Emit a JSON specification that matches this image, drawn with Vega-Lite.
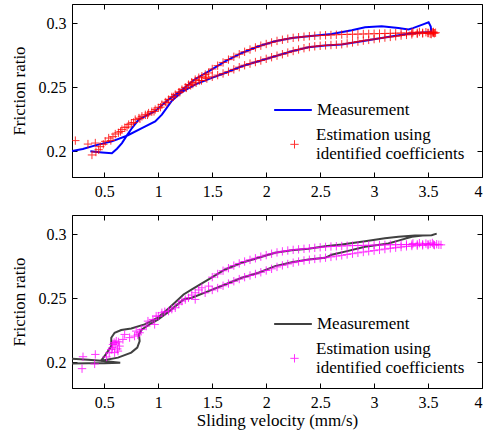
{
  "$schema": "https://vega.github.io/schema/vega-lite/v6.json",
  "background": "white",
  "padding": {"left": 9, "top": 3, "right": 2, "bottom": 4},
  "spacing": 14,
  "config": {
    "font": "Liberation Serif",
    "view": {"stroke": "black", "strokeWidth": 1},
    "axis": {"grid": false, "domainColor": "black", "tickColor": "black", "tickSize": -5, "labelFontSize": 16, "labelColor": "black", "labelFont": "Liberation Serif", "titleFont": "Liberation Serif", "titleFontSize": 17, "titleFontWeight": "normal", "titleColor": "black", "labelPadding": 11},
    "legend": {"labelFont": "Liberation Serif", "labelFontSize": 17, "labelColor": "black", "padding": 0, "labelLimit": 0}
  },
  "resolve": {"scale": {"stroke": "independent", "color": "independent"}, "legend": {"stroke": "independent", "color": "independent"}},
  "datasets": {
    "m1": [
      {"o":1,"x":0.2,"y":0.2003},{"o":2,"x":0.3,"y":0.2018},{"o":3,"x":0.416,"y":0.2047},{"o":4,"x":0.57,"y":0.2078},{"o":5,"x":0.709,"y":0.2122},{"o":6,"x":0.848,"y":0.2182},{"o":7,"x":0.971,"y":0.2234},{"o":8,"x":1.033,"y":0.2287},{"o":9,"x":1.126,"y":0.2395},{"o":10,"x":1.22,"y":0.2465},{"o":11,"x":1.35,"y":0.2525},{"o":12,"x":1.496,"y":0.2573},{"o":13,"x":1.619,"y":0.2612},{"o":14,"x":1.774,"y":0.2664},{"o":15,"x":1.929,"y":0.2703},{"o":16,"x":2.082,"y":0.2742},{"o":17,"x":2.237,"y":0.2781},{"o":18,"x":2.392,"y":0.2813},{"o":19,"x":2.545,"y":0.2826},{"o":20,"x":2.7,"y":0.2834},{"o":21,"x":2.9,"y":0.2862},{"o":22,"x":3.07,"y":0.2885},{"o":23,"x":3.2,"y":0.2902},{"o":24,"x":3.318,"y":0.2918},{"o":25,"x":3.45,"y":0.2928},{"o":26,"x":3.53,"y":0.2932},{"o":27,"x":3.525,"y":0.2975},{"o":28,"x":3.505,"y":0.3007},{"o":29,"x":3.46,"y":0.2993},{"o":30,"x":3.41,"y":0.2977},{"o":31,"x":3.36,"y":0.2962},{"o":32,"x":3.318,"y":0.2951},{"o":33,"x":3.225,"y":0.2963},{"o":34,"x":3.07,"y":0.2977},{"o":35,"x":2.916,"y":0.2969},{"o":36,"x":2.793,"y":0.2945},{"o":37,"x":2.607,"y":0.2916},{"o":38,"x":2.392,"y":0.2898},{"o":39,"x":2.237,"y":0.2885},{"o":40,"x":2.082,"y":0.2859},{"o":41,"x":1.929,"y":0.282},{"o":42,"x":1.774,"y":0.2768},{"o":43,"x":1.619,"y":0.2703},{"o":44,"x":1.466,"y":0.2625},{"o":45,"x":1.339,"y":0.2563},{"o":46,"x":1.22,"y":0.248},{"o":47,"x":1.095,"y":0.2404},{"o":48,"x":0.969,"y":0.2313},{"o":49,"x":0.818,"y":0.2248},{"o":50,"x":0.756,"y":0.2182},{"o":51,"x":0.709,"y":0.2125},{"o":52,"x":0.663,"y":0.2065},{"o":53,"x":0.617,"y":0.2021},{"o":54,"x":0.57,"y":0.1985},{"o":55,"x":0.478,"y":0.1992},{"o":56,"x":0.37,"y":0.2}
    ],
    "e1": [
      {"x":0.231,"y":0.2084},{"x":0.348,"y":0.2057},{"x":0.385,"y":0.1972},{"x":0.416,"y":0.2065},{"x":0.422,"y":0.1995},{"x":0.447,"y":0.2013},{"x":0.462,"y":0.2037},{"x":0.49,"y":0.2055},{"x":0.508,"y":0.2078},{"x":0.54,"y":0.2104},{"x":0.56,"y":0.2085},{"x":0.58,"y":0.2115},{"x":0.601,"y":0.2135},{"x":0.63,"y":0.2145},{"x":0.65,"y":0.2155},{"x":0.663,"y":0.217},{"x":0.69,"y":0.2185},{"x":0.71,"y":0.219},{"x":0.725,"y":0.2209},{"x":0.75,"y":0.222},{"x":0.77,"y":0.2225},{"x":0.786,"y":0.2248},{"x":0.82,"y":0.226},{"x":0.83,"y":0.2255},{"x":0.848,"y":0.2273},{"x":0.88,"y":0.2285},{"x":0.9,"y":0.2285},{"x":0.91,"y":0.2299},{"x":0.94,"y":0.231},{"x":0.96,"y":0.2312},{"x":0.971,"y":0.2326},{"x":1.0,"y":0.234},{"x":1.02,"y":0.2345},{"x":1.033,"y":0.2365},{"x":1.065,"y":0.2385},{"x":1.08,"y":0.238},{"x":1.095,"y":0.2404},{"x":1.125,"y":0.2425},{"x":1.14,"y":0.2425},{"x":1.157,"y":0.2443},{"x":1.19,"y":0.2462},{"x":1.2,"y":0.2462},{"x":1.219,"y":0.2482},{"x":1.25,"y":0.25},{"x":1.26,"y":0.2495},{"x":1.28,"y":0.2521},{"x":1.3,"y":0.2515},{"x":1.31,"y":0.254},{"x":1.32,"y":0.2525},{"x":1.342,"y":0.256},{"x":1.35,"y":0.2535},{"x":1.375,"y":0.2575},{"x":1.38,"y":0.2552},{"x":1.4,"y":0.2553},{"x":1.404,"y":0.2586},{"x":1.435,"y":0.26},{"x":1.44,"y":0.2575},{"x":1.45,"y":0.2568},{"x":1.466,"y":0.2612},{"x":1.5,"y":0.2582},
      {"x":1.5,"y":0.2643},{"x":1.55,"y":0.2669},{"x":1.6,"y":0.2694},{"x":1.65,"y":0.2716},{"x":1.7,"y":0.2738},{"x":1.75,"y":0.2758},{"x":1.8,"y":0.2777},{"x":1.85,"y":0.2795},{"x":1.9,"y":0.2811},{"x":1.95,"y":0.2825},{"x":2.0,"y":0.2838},{"x":2.05,"y":0.285},{"x":2.1,"y":0.2862},{"x":2.15,"y":0.2871},{"x":2.2,"y":0.2879},{"x":2.25,"y":0.2886},{"x":2.3,"y":0.2891},{"x":2.35,"y":0.2895},{"x":2.4,"y":0.2899},{"x":2.45,"y":0.2902},{"x":2.5,"y":0.2904},{"x":2.55,"y":0.2906},{"x":2.6,"y":0.2908},{"x":2.65,"y":0.291},{"x":2.7,"y":0.2912},{"x":2.75,"y":0.2913},{"x":2.8,"y":0.2914},{"x":2.85,"y":0.2915},{"x":2.9,"y":0.2916},{"x":2.95,"y":0.2917},{"x":3.0,"y":0.2918},{"x":3.05,"y":0.2919},{"x":3.1,"y":0.292},{"x":3.15,"y":0.2921},{"x":3.2,"y":0.2922},{"x":3.25,"y":0.2923},{"x":3.3,"y":0.2924},{"x":3.35,"y":0.2924},{"x":3.4,"y":0.2925},{"x":3.45,"y":0.2925},{"x":3.5,"y":0.2925},{"x":3.55,"y":0.2924},
      {"x":1.55,"y":0.2595},{"x":1.6,"y":0.2608},{"x":1.65,"y":0.2622},{"x":1.7,"y":0.264},{"x":1.75,"y":0.2657},{"x":1.8,"y":0.2672},{"x":1.85,"y":0.2685},{"x":1.9,"y":0.2697},{"x":1.95,"y":0.2709},{"x":2.0,"y":0.2722},{"x":2.05,"y":0.2735},{"x":2.1,"y":0.2747},{"x":2.15,"y":0.2758},{"x":2.2,"y":0.2771},{"x":2.25,"y":0.2783},{"x":2.3,"y":0.2795},{"x":2.35,"y":0.2805},{"x":2.4,"y":0.2814},{"x":2.45,"y":0.282},{"x":2.5,"y":0.2824},{"x":2.55,"y":0.2827},{"x":2.6,"y":0.283},{"x":2.65,"y":0.2833},{"x":2.7,"y":0.2836},{"x":2.75,"y":0.2843},{"x":2.8,"y":0.285},{"x":2.85,"y":0.2857},{"x":2.9,"y":0.2864},{"x":2.95,"y":0.287},{"x":3.0,"y":0.2876},{"x":3.05,"y":0.2882},{"x":3.1,"y":0.2888},{"x":3.15,"y":0.2893},{"x":3.2,"y":0.2898},{"x":3.25,"y":0.2904},{"x":3.3,"y":0.2909},{"x":3.35,"y":0.2913},{"x":3.4,"y":0.2917},{"x":3.45,"y":0.292},{"x":3.5,"y":0.2922},
      {"x":3.52,"y":0.2918},{"x":3.54,"y":0.2928},{"x":3.56,"y":0.2922},{"x":3.57,"y":0.2926},{"x":3.48,"y":0.293},{"x":3.53,"y":0.2915},{"x":3.55,"y":0.2932},{"x":3.42,"y":0.2932},{"x":3.36,"y":0.293}
    ],
    "m2": [
      {"g":1,"o":1,"x":0.2,"y":0.2029},{"g":1,"o":2,"x":0.35,"y":0.2021},{"g":1,"o":3,"x":0.47,"y":0.2013},{"g":1,"o":4,"x":0.56,"y":0.2005},{"g":1,"o":5,"x":0.647,"y":0.1998},{"g":1,"o":6,"x":0.5,"y":0.1994},{"g":1,"o":7,"x":0.35,"y":0.1993},{"g":1,"o":8,"x":0.2,"y":0.1992},
      {"g":2,"o":9,"x":0.47,"y":0.2013},{"g":2,"o":10,"x":0.626,"y":0.2037},{"g":2,"o":11,"x":0.749,"y":0.2076},{"g":2,"o":12,"x":0.805,"y":0.2115},{"g":2,"o":13,"x":0.827,"y":0.2166},{"g":2,"o":14,"x":0.82,"y":0.2218},{"g":2,"o":15,"x":0.848,"y":0.2257},{"g":2,"o":16,"x":0.919,"y":0.2296},{"g":2,"o":17,"x":0.996,"y":0.2333},{"g":2,"o":18,"x":1.1,"y":0.2398},{"g":2,"o":19,"x":1.234,"y":0.2491},{"g":2,"o":20,"x":1.311,"y":0.2504},{"g":2,"o":21,"x":1.466,"y":0.2556},{"g":2,"o":22,"x":1.619,"y":0.2608},{"g":2,"o":23,"x":1.774,"y":0.266},{"g":2,"o":24,"x":1.929,"y":0.2699},{"g":2,"o":25,"x":2.082,"y":0.2751},{"g":2,"o":26,"x":2.237,"y":0.2782},{"g":2,"o":27,"x":2.392,"y":0.2803},{"g":2,"o":28,"x":2.545,"y":0.2816},{"g":2,"o":29,"x":2.607,"y":0.284},{"g":2,"o":30,"x":2.75,"y":0.2868},{"g":2,"o":31,"x":2.916,"y":0.2902},{"g":2,"o":32,"x":3.132,"y":0.2928},{"g":2,"o":33,"x":3.225,"y":0.295},{"g":2,"o":34,"x":3.35,"y":0.298},{"g":2,"o":35,"x":3.45,"y":0.299},{"g":2,"o":36,"x":3.533,"y":0.2992},{"g":2,"o":37,"x":3.58,"y":0.3005},{"g":2,"o":38,"x":3.533,"y":0.2992},{"g":2,"o":39,"x":3.379,"y":0.299},{"g":2,"o":40,"x":3.225,"y":0.298},{"g":2,"o":41,"x":3.1,"y":0.2968},{"g":2,"o":42,"x":2.916,"y":0.2945},{"g":2,"o":43,"x":2.7,"y":0.292},{"g":2,"o":44,"x":2.545,"y":0.2906},{"g":2,"o":45,"x":2.392,"y":0.2886},{"g":2,"o":46,"x":2.237,"y":0.2875},{"g":2,"o":47,"x":2.082,"y":0.2855},{"g":2,"o":48,"x":1.929,"y":0.2816},{"g":2,"o":49,"x":1.774,"y":0.2777},{"g":2,"o":50,"x":1.619,"y":0.2725},{"g":2,"o":51,"x":1.466,"y":0.2647},{"g":2,"o":52,"x":1.311,"y":0.2569},{"g":2,"o":53,"x":1.234,"y":0.253},{"g":2,"o":54,"x":1.1,"y":0.2425},{"g":2,"o":55,"x":0.996,"y":0.235},{"g":2,"o":56,"x":0.873,"y":0.2296},{"g":2,"o":57,"x":0.749,"y":0.2265},{"g":2,"o":58,"x":0.656,"y":0.2252},{"g":2,"o":59,"x":0.595,"y":0.2231},{"g":2,"o":60,"x":0.564,"y":0.2192},{"g":2,"o":61,"x":0.564,"y":0.2127},{"g":2,"o":62,"x":0.52,"y":0.207},{"g":2,"o":63,"x":0.47,"y":0.2013}
    ],
    "e2": [
      {"x":0.302,"y":0.2044},{"x":0.293,"y":0.1951},{"x":0.416,"y":0.2062},{"x":0.41,"y":0.1988},{"x":0.52,"y":0.2042},{"x":0.545,"y":0.2075},{"x":0.564,"y":0.2101},{"x":0.58,"y":0.214},{"x":0.61,"y":0.2166},{"x":0.641,"y":0.2127},{"x":0.626,"y":0.2088},{"x":0.595,"y":0.2076},{"x":0.575,"y":0.2115},{"x":0.6,"y":0.2145},{"x":0.62,"y":0.2105},{"x":0.59,"y":0.2155},{"x":0.63,"y":0.216},{"x":0.672,"y":0.2179},{"x":0.688,"y":0.2218},{"x":0.734,"y":0.2193},{"x":0.78,"y":0.2205},{"x":0.795,"y":0.2244},{"x":0.827,"y":0.2231},{"x":0.842,"y":0.2257},{"x":0.81,"y":0.2215},{"x":0.888,"y":0.2283},{"x":0.904,"y":0.2322},{"x":0.95,"y":0.2335},{"x":0.98,"y":0.2361},{"x":0.966,"y":0.2296},{"x":1.0,"y":0.2361},{"x":1.033,"y":0.2387},{"x":1.06,"y":0.2395},{"x":1.095,"y":0.24},{"x":1.125,"y":0.2415},{"x":1.157,"y":0.2426},{"x":1.19,"y":0.2455},{"x":1.219,"y":0.2478},{"x":1.25,"y":0.249},{"x":1.28,"y":0.2504},{"x":1.31,"y":0.2525},{"x":1.342,"y":0.2543},{"x":1.375,"y":0.2565},{"x":1.404,"y":0.2582},{"x":1.434,"y":0.2543},{"x":1.342,"y":0.2491},{"x":1.466,"y":0.2595},
      {"x":1.5,"y":0.2665},{"x":1.55,"y":0.269},{"x":1.6,"y":0.2715},{"x":1.65,"y":0.2735},{"x":1.7,"y":0.2755},{"x":1.75,"y":0.2772},{"x":1.8,"y":0.2787},{"x":1.85,"y":0.28},{"x":1.9,"y":0.2812},{"x":1.95,"y":0.2825},{"x":2.0,"y":0.2837},{"x":2.05,"y":0.2848},{"x":2.1,"y":0.2858},{"x":2.15,"y":0.2866},{"x":2.2,"y":0.2873},{"x":2.25,"y":0.2878},{"x":2.3,"y":0.2882},{"x":2.35,"y":0.2886},{"x":2.4,"y":0.289},{"x":2.45,"y":0.2894},{"x":2.5,"y":0.2898},{"x":2.55,"y":0.2901},{"x":2.6,"y":0.2904},{"x":2.65,"y":0.2906},{"x":2.7,"y":0.2908},{"x":2.75,"y":0.291},{"x":2.8,"y":0.2911},{"x":2.85,"y":0.2912},{"x":2.9,"y":0.2913},{"x":2.95,"y":0.2914},{"x":3.0,"y":0.2915},{"x":3.05,"y":0.2916},{"x":3.1,"y":0.2917},{"x":3.15,"y":0.2918},{"x":3.2,"y":0.2918},{"x":3.25,"y":0.2919},{"x":3.3,"y":0.292},{"x":3.35,"y":0.292},{"x":3.4,"y":0.2921},{"x":3.45,"y":0.2921},{"x":3.5,"y":0.2921},{"x":3.55,"y":0.292},{"x":3.6,"y":0.2918},
      {"x":1.5,"y":0.2565},{"x":1.55,"y":0.258},{"x":1.6,"y":0.2598},{"x":1.65,"y":0.2615},{"x":1.7,"y":0.2633},{"x":1.75,"y":0.265},{"x":1.8,"y":0.2665},{"x":1.85,"y":0.2678},{"x":1.9,"y":0.269},{"x":1.95,"y":0.2703},{"x":2.0,"y":0.2717},{"x":2.05,"y":0.273},{"x":2.1,"y":0.2745},{"x":2.15,"y":0.2757},{"x":2.2,"y":0.2768},{"x":2.25,"y":0.2778},{"x":2.3,"y":0.2787},{"x":2.35,"y":0.2795},{"x":2.4,"y":0.2801},{"x":2.45,"y":0.2807},{"x":2.5,"y":0.2812},{"x":2.55,"y":0.2817},{"x":2.6,"y":0.2823},{"x":2.65,"y":0.2829},{"x":2.7,"y":0.2835},{"x":2.75,"y":0.2842},{"x":2.8,"y":0.2848},{"x":2.85,"y":0.2855},{"x":2.9,"y":0.2861},{"x":2.95,"y":0.2867},{"x":3.0,"y":0.2872},{"x":3.05,"y":0.2878},{"x":3.1,"y":0.2884},{"x":3.15,"y":0.289},{"x":3.2,"y":0.2895},{"x":3.25,"y":0.29},{"x":3.3,"y":0.2905},{"x":3.35,"y":0.2908},{"x":3.4,"y":0.2911},{"x":3.45,"y":0.2913},{"x":3.5,"y":0.2915},
      {"x":3.52,"y":0.2925},{"x":3.56,"y":0.2915},{"x":3.58,"y":0.2922},{"x":3.62,"y":0.2917},{"x":3.48,"y":0.2927},{"x":3.54,"y":0.2932},{"x":3.42,"y":0.293},{"x":3.36,"y":0.2928}
    ]
  },
  "vconcat": [
    {
      "width": 410, "height": 173,
      "resolve": {"axis": {"x": "independent", "y": "independent"}},
      "layer": [
        {
          "data": {"name": "m1"},
          "mark": {"type": "line", "strokeWidth": 2, "clip": true},
          "encoding": {
            "x": {"field": "x", "type": "quantitative", "scale": {"domain": [0.2, 4], "nice": false, "zero": false}, "axis": {"values": [0.5, 1, 1.5, 2, 2.5, 3, 3.5, 4], "format": "~g", "title": null}},
            "y": {"field": "y", "type": "quantitative", "scale": {"domain": [0.18, 0.315], "nice": false, "zero": false}, "axis": {"values": [0.2, 0.25, 0.3], "format": "~g", "title": "Friction ratio", "titleX": -47.7, "titleBaseline": "alphabetic"}},
            "order": {"field": "o", "type": "quantitative"},
            "stroke": {"datum": "Measurement", "type": "nominal", "scale": {"range": ["#0000ff"]}, "legend": {"orient": "none", "legendX": 201, "legendY": 86, "title": null, "symbolType": "stroke", "symbolSize": 1420, "symbolStrokeWidth": 2}}
          }
        },
        {
          "data": {"name": "e1"},
          "mark": {"type": "point", "filled": false, "strokeWidth": 1, "opacity": 0.8, "size": 70, "clip": true, "shape": "M-1,0L1,0M0,-1L0,1"},
          "encoding": {
            "x": {"field": "x", "type": "quantitative", "axis": {"orient": "top", "values": [0.5, 1, 1.5, 2, 2.5, 3, 3.5, 4], "labels": false, "domain": false, "title": null}},
            "y": {"field": "y", "type": "quantitative", "axis": {"orient": "right", "values": [0.2, 0.25, 0.3], "labels": false, "domain": false, "title": null}},
            "color": {"datum": "Estimation", "type": "nominal", "scale": {"range": ["#ff0000"]}, "legend": {"orient": "none", "legendX": 214, "legendY": 122, "title": null, "labelExpr": "['Estimation using', 'identified coefficients']", "labelOffset": 13, "symbolType": "M-1,2.35L1,2.35M0,1.35L0,3.35", "symbolSize": 70, "symbolStrokeColor": "#ff0000", "symbolFillColor": "transparent", "symbolStrokeWidth": 1}}
          }
        }
      ]
    },
    {
      "width": 410, "height": 173,
      "resolve": {"axis": {"x": "independent", "y": "independent"}},
      "layer": [
        {
          "data": {"name": "m2"},
          "mark": {"type": "line", "strokeWidth": 2, "clip": true},
          "encoding": {
            "x": {"field": "x", "type": "quantitative", "scale": {"domain": [0.2, 4], "nice": false, "zero": false}, "axis": {"values": [0.5, 1, 1.5, 2, 2.5, 3, 3.5, 4], "format": "~g", "title": "Sliding velocity (mm/s)", "titleY": 37, "titleBaseline": "alphabetic"}},
            "y": {"field": "y", "type": "quantitative", "scale": {"domain": [0.18, 0.315], "nice": false, "zero": false}, "axis": {"values": [0.2, 0.25, 0.3], "format": "~g", "title": "Friction ratio", "titleX": -47.7, "titleBaseline": "alphabetic"}},
            "order": {"field": "o", "type": "quantitative"},
            "detail": {"field": "g", "type": "nominal"},
            "stroke": {"datum": "Measurement", "type": "nominal", "scale": {"range": ["#404040"]}, "legend": {"orient": "none", "legendX": 201, "legendY": 89, "title": null, "symbolType": "stroke", "symbolSize": 1420, "symbolStrokeWidth": 2}}
          }
        },
        {
          "data": {"name": "e2"},
          "mark": {"type": "point", "filled": false, "strokeWidth": 1, "opacity": 0.8, "size": 70, "clip": true, "shape": "M-1,0L1,0M0,-1L0,1"},
          "encoding": {
            "x": {"field": "x", "type": "quantitative", "axis": {"orient": "top", "values": [0.5, 1, 1.5, 2, 2.5, 3, 3.5, 4], "labels": false, "domain": false, "title": null}},
            "y": {"field": "y", "type": "quantitative", "axis": {"orient": "right", "values": [0.2, 0.25, 0.3], "labels": false, "domain": false, "title": null}},
            "color": {"datum": "Estimation", "type": "nominal", "scale": {"range": ["#ff00ff"]}, "legend": {"orient": "none", "legendX": 214, "legendY": 125, "title": null, "labelExpr": "['Estimation using', 'identified coefficients']", "labelOffset": 13, "symbolType": "M-1,2.35L1,2.35M0,1.35L0,3.35", "symbolSize": 70, "symbolStrokeColor": "#ff00ff", "symbolFillColor": "transparent", "symbolStrokeWidth": 1}}
          }
        }
      ]
    }
  ]
}
